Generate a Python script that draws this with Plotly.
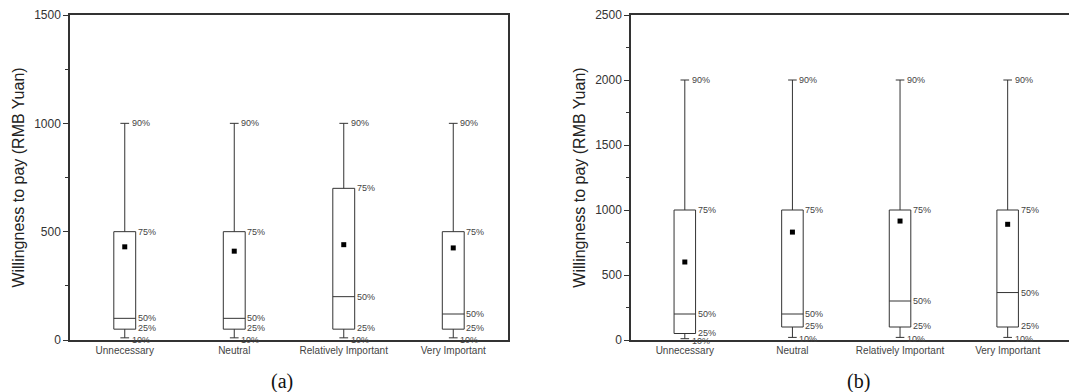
import plotly.graph_objects as go

categories = ["Unnecessary", "Neutral", "Relatively Important", "Very Important"]

# Panel (a)
a_p10 = [10, 10, 10, 10]
a_p25 = [50, 50, 50, 50]
a_p50 = [100, 100, 200, 120]
a_p75 = [500, 500, 700, 500]
a_p90 = [1000, 1000, 1000, 1000]
a_mean = [430, 410, 440, 425]

# Panel (b)
b_p10 = [10, 20, 20, 20]
b_p25 = [50, 100, 100, 100]
b_p50 = [200, 200, 300, 365]
b_p75 = [1000, 1000, 1000, 1000]
b_p90 = [2000, 2000, 2000, 2000]
b_mean = [600, 830, 915, 890]

pct_labels = ["10%", "25%", "50%", "75%", "90%"]

LINE = "#333333"
TXT = "#444444"

fig = go.Figure()

def add_panel(idx, p10, p25, p50, p75, p90, mean):
    xa = "x" if idx == 1 else "x2"
    ya = "y" if idx == 1 else "y2"
    fig.add_trace(go.Box(
        x=categories, q1=p25, median=p50, q3=p75,
        lowerfence=p10, upperfence=p90,
        fillcolor="rgba(0,0,0,0)", line=dict(color=LINE, width=1),
        whiskerwidth=0.4, boxpoints=False, showlegend=False,
        xaxis=xa, yaxis=ya, hoverinfo="skip",
    ))
    fig.add_trace(go.Scatter(
        x=categories, y=mean, mode="markers",
        marker=dict(symbol="square", size=5, color="black"),
        showlegend=False, xaxis=xa, yaxis=ya, hoverinfo="skip",
    ))
    series = [p10, p25, p50, p75, p90]
    for lab, vals in zip(pct_labels, series):
        shift = 5 if lab in ("10%", "90%") else 11
        yshift = {"10%": -2, "25%": 1}.get(lab, 0)
        for c, v in zip(categories, vals):
            fig.add_annotation(
                x=c, y=v, xref=xa, yref=ya, text=lab, showarrow=False,
                xanchor="left", yanchor="middle", xshift=shift, yshift=yshift,
                font=dict(family="Liberation Sans, Arial", size=9, color=TXT),
            )

add_panel(1, a_p10, a_p25, a_p50, a_p75, a_p90, a_mean)
add_panel(2, b_p10, b_p25, b_p50, b_p75, b_p90, b_mean)

W, H = 1069, 392
ax_common = dict(
    type="category", showgrid=False, zeroline=False, showline=True,
    linecolor=LINE, linewidth=1.5, ticks="",
    tickfont=dict(family="Liberation Sans, Arial", size=10, color=TXT),
)
y_common = dict(
    showgrid=False, zeroline=False, showline=True, linecolor=LINE, linewidth=1.5,
    ticks="outside", ticklen=5, tickcolor=LINE,
    tickfont=dict(family="Liberation Sans, Arial", size=12, color="#333333"),
    title=dict(text="Willingness to pay (RMB Yuan)",
               font=dict(family="Liberation Sans, Arial", size=16, color="#222222"),
               standoff=6),
)

fig.update_layout(
    width=W, height=H,
    margin=dict(l=0, r=0, t=15, b=52),
    paper_bgcolor="white", plot_bgcolor="white",
    boxgap=0.8, boxgroupgap=0,
    xaxis=dict(domain=[70 / W, 508 / W], range=[-0.5, 3.5], mirror=True,
               anchor="y", **ax_common),
    yaxis=dict(domain=[0, 1], range=[0, 1500], dtick=500, mirror=True, anchor="x",
               minor=dict(ticks="outside", ticklen=3, dtick=250, tickcolor=LINE),
               **y_common),
    xaxis2=dict(domain=[631 / W, 1.0], range=[-0.5, 3.57], mirror=True,
                anchor="y2", **ax_common),
    yaxis2=dict(domain=[0, 1], range=[0, 2500], dtick=500, mirror=False, anchor="x2",
                minor=dict(ticks="outside", ticklen=3, dtick=250, tickcolor=LINE),
                **y_common),
)

for txt, xc in (("(a)", 282), ("(b)", 858)):
    fig.add_annotation(
        x=xc / W, y=-0.128, xref="paper", yref="paper", text=txt, showarrow=False,
        xanchor="center", yanchor="middle",
        font=dict(family="Liberation Serif, Times New Roman", size=20, color="#111111"),
    )

fig.write_html("out.html", config={"displayModeBar": False},
               post_script="document.body.style.margin='0';")
